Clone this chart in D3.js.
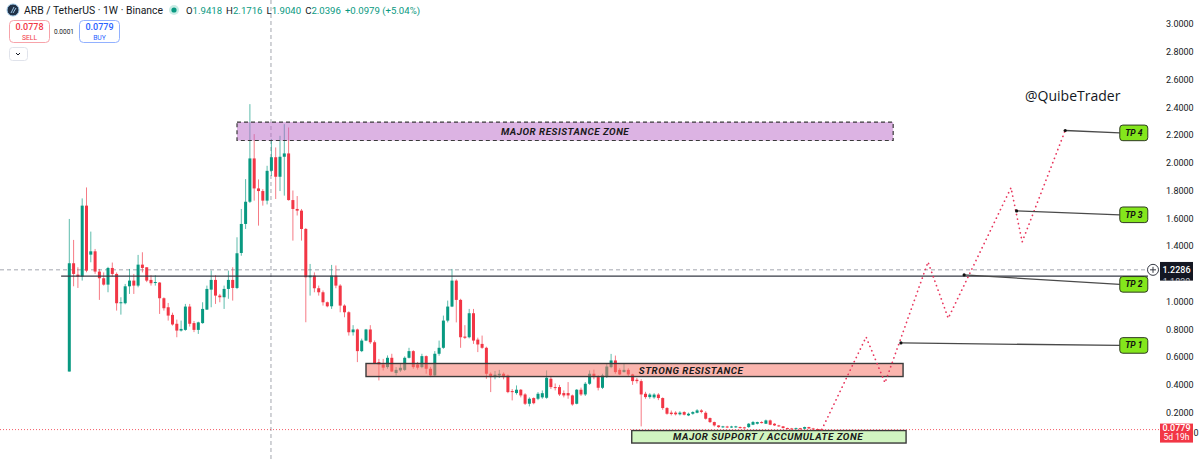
<!DOCTYPE html>
<html><head><meta charset="utf-8">
<script src="https://cdn.jsdelivr.net/npm/d3@7"></script>
<style>
html,body{margin:0;padding:0;background:#fff;}
svg{display:block;font-family:Roboto,"Noto Sans",sans-serif;}
</style></head>
<body>
<svg id="chart" width="1200" height="460"></svg>
<script>
// ---------- DATA ----------
const opens = [
0.496,1.276,1.194,1.180,1.691,1.338,1.362,1.216,1.168,1.122,
1.242,1.199,0.988,0.988,1.110,1.151,1.115,1.266,1.247,1.156,
1.137,1.137,1.024,0.959,0.904,0.840,0.791,0.796,0.964,0.845,
0.796,0.845,0.942,1.086,1.156,1.043,1.031,1.091,1.156,1.098,
1.350,1.559,1.719,2.031,1.815,1.796,1.727,1.9418,2.0396,1.899,
2.043,2.067,1.731,1.667,1.655,1.523,1.175,1.187,1.096,1.067,
0.995,0.966,1.187,1.115,0.971,0.923,0.779,0.799,0.643,0.719,
0.799,0.707,0.564,0.547,0.528,0.595,0.485,0.504,0.508,0.595,
0.643,0.547,0.528,0.607,0.516,0.468,0.624,0.667,0.863,0.964,
1.151,1.012,0.748,0.743,0.916,0.726,0.695,0.667,0.480,0.456,
0.468,0.480,0.468,0.355,0.341,0.365,0.331,0.264,0.305,0.300,
0.310,0.307,0.444,0.384,0.384,0.341,0.341,0.324,0.264,0.365,
0.331,0.408,0.480,0.456,0.379,0.461,0.528,0.576,0.508,0.492,
0.508,0.475,0.437,0.427,0.336,0.312,0.310,0.330,0.305,0.233,
0.200,0.200,0.188,0.204,0.180,0.192,0.199,0.216,0.199,0.161,
0.132,0.108,0.096,0.100,0.094,0.096,0.096,0.094,0.096,0.113,
0.120,0.132,0.120,0.144,0.120,0.108,0.101,0.089,0.086,0.082,
0.088,0.084,0.096,0.086,0.082,0.081];
const highs = [
1.595,1.444,1.247,1.743,1.822,1.504,1.379,1.235,1.210,1.250,
1.281,1.210,1.031,1.127,1.235,1.199,1.336,1.355,1.247,1.190,
1.190,1.140,1.030,0.990,0.920,0.870,0.863,0.983,0.983,0.860,
0.855,0.995,1.115,1.223,1.190,1.055,1.115,1.223,1.247,1.463,
1.667,1.882,2.422,2.206,1.880,1.810,1.978,2.1716,2.110,2.194,
2.278,2.254,1.800,1.760,1.667,1.530,1.271,1.210,1.115,1.080,
1.000,1.264,1.260,1.125,0.980,0.930,0.830,0.805,0.733,0.803,
0.830,0.720,0.587,0.587,0.612,0.624,0.528,0.552,0.605,0.667,
0.650,0.565,0.624,0.612,0.530,0.643,0.719,0.899,1.007,1.235,
1.160,1.020,0.830,0.947,0.947,0.740,0.755,0.675,0.490,0.500,
0.508,0.490,0.475,0.370,0.396,0.370,0.340,0.310,0.310,0.348,
0.360,0.504,0.460,0.410,0.400,0.360,0.420,0.330,0.370,0.380,
0.420,0.504,0.510,0.470,0.480,0.550,0.623,0.611,0.520,0.552,
0.520,0.480,0.450,0.440,0.350,0.340,0.340,0.340,0.310,0.240,
0.215,0.210,0.210,0.210,0.200,0.210,0.225,0.225,0.210,0.165,
0.135,0.110,0.105,0.105,0.105,0.105,0.100,0.098,0.125,0.140,
0.135,0.138,0.150,0.150,0.124,0.112,0.104,0.092,0.090,0.092,
0.090,0.099,0.098,0.090,0.086,0.084];
const lows = [
0.496,1.110,1.098,1.151,1.211,1.283,1.200,1.012,1.115,1.067,
1.180,0.935,0.906,0.980,1.055,1.055,1.103,1.210,1.140,1.115,
1.115,0.911,0.935,0.863,0.827,0.743,0.784,0.790,0.820,0.780,
0.767,0.840,0.940,0.959,0.983,0.995,0.947,1.020,1.007,1.090,
1.330,1.523,1.710,1.727,1.547,1.691,1.700,1.904,1.739,1.796,
1.763,1.727,1.439,1.620,1.439,0.851,1.043,1.067,1.043,0.971,
0.959,0.947,1.096,0.923,0.887,0.755,0.755,0.564,0.636,0.715,
0.695,0.550,0.432,0.504,0.516,0.492,0.468,0.492,0.500,0.590,
0.516,0.510,0.520,0.480,0.456,0.460,0.610,0.660,0.850,0.960,
0.850,0.667,0.730,0.735,0.695,0.636,0.660,0.444,0.348,0.440,
0.450,0.440,0.340,0.288,0.330,0.310,0.255,0.245,0.260,0.290,
0.300,0.300,0.370,0.360,0.320,0.310,0.300,0.250,0.260,0.320,
0.320,0.400,0.440,0.360,0.370,0.450,0.520,0.480,0.470,0.490,
0.460,0.400,0.410,0.101,0.300,0.300,0.300,0.290,0.220,0.185,
0.180,0.180,0.180,0.180,0.175,0.185,0.195,0.195,0.150,0.125,
0.100,0.090,0.090,0.088,0.090,0.090,0.085,0.085,0.090,0.110,
0.115,0.122,0.118,0.110,0.104,0.098,0.086,0.080,0.079,0.079,
0.078,0.080,0.083,0.078,0.075,0.074];
const closes = [
1.276,1.199,1.180,1.691,1.223,1.362,1.216,1.168,1.122,1.242,
1.199,0.988,0.995,1.110,1.151,1.115,1.266,1.242,1.151,1.132,
1.141,1.024,0.952,0.899,0.835,0.791,0.803,0.964,0.840,0.796,
0.850,0.947,1.091,1.156,1.043,1.031,1.091,1.156,1.098,1.348,
1.559,1.719,2.031,1.815,1.796,1.727,1.9417,2.0396,1.899,2.043,
2.067,1.731,1.667,1.655,1.523,1.175,1.187,1.096,1.067,0.995,
0.966,1.187,1.115,0.971,0.923,0.779,0.799,0.643,0.719,0.799,
0.707,0.556,0.547,0.524,0.595,0.496,0.508,0.523,0.595,0.643,
0.528,0.524,0.607,0.516,0.468,0.624,0.667,0.863,0.964,1.151,
1.012,0.743,0.739,0.916,0.719,0.691,0.667,0.480,0.456,0.473,
0.480,0.456,0.348,0.348,0.365,0.324,0.264,0.300,0.268,0.336,
0.340,0.451,0.384,0.379,0.331,0.324,0.324,0.259,0.365,0.331,
0.408,0.480,0.456,0.379,0.468,0.532,0.576,0.492,0.475,0.508,
0.475,0.427,0.427,0.331,0.312,0.330,0.330,0.305,0.233,0.192,
0.190,0.188,0.200,0.185,0.192,0.204,0.216,0.205,0.156,0.132,
0.108,0.096,0.101,0.094,0.100,0.101,0.089,0.089,0.120,0.132,
0.132,0.127,0.144,0.113,0.108,0.101,0.089,0.084,0.082,0.088,
0.081,0.096,0.086,0.081,0.078,0.0779];

const yTicks = [0.2,0.4,0.6,0.8,1.0,1.2,1.4,1.6,1.8,2.0,2.2,2.4,2.6,2.8,3.0];

// projected path (bar index, price)
const projIdx = [175, 185.3, 189.7, 199.7, 204.4, 219.0, 221.6, 231.6];
const projVal = [0.078, 0.745, 0.415, 1.285, 0.880, 1.820, 1.430, 2.232];

// targets
const tpNames = ["TP 1","TP 2","TP 3","TP 4"];
const tpIdx = [193.4, 208.1, 220.3, 231.6];
const tpVal = [0.702, 1.192, 1.653, 2.232];
const tpLabelVal = [0.684, 1.124, 1.625, 2.215];
const tpLabelIdx = 244.3;

// zones
const zoneNames = ["MAJOR RESISTANCE ZONE","STRONG RESISTANCE","MAJOR SUPPORT / ACCUMULATE ZONE"];
const zoneStart = [39.0, 69.0, 130.8];
const zoneEnd = [191.6, 193.9, 194.6];
const zoneTop = [2.293, 0.554, 0.071];
const zoneBottom = [2.160, 0.460, -0.019];
const zoneLabelIdx = [115.3, 144.6, 162.5];

const lastPrice = 0.0779;
const crossPrice = 1.2286;
const crossIdx = 46.9;
const levelPrice = 1.183;
const levelStartIdx = -1.9;

const symbolText = "ARB / TetherUS · 1W · Binance";
const ohlcKeys = ["O","H","L","C"];
const ohlcVals = ["1.9418","2.1716","1.9040","2.0396"];
const changeText = "+0.0979 (+5.04%)";

// ---------- CHART ----------
const svg = d3.select("#chart");
const W = 1200, H = 460, plotRight = 1150;
const x = d3.scaleLinear().domain([0, 175]).range([69.3, 821.8]);
const y = d3.scaleLinear().domain([0, 3]).range([440.4, 23.9]);
const UP = "#089981", DOWN = "#f23645";

const defs = svg.append("defs");
defs.append("clipPath").attr("id","plot").append("rect").attr("x",0).attr("y",0).attr("width",plotRight).attr("height",H);

const plot = svg.append("g").attr("clip-path","url(#plot)");

// crosshair
plot.append("line").attr("x1",x(crossIdx)).attr("x2",x(crossIdx)).attr("y1",0).attr("y2",H)
  .attr("stroke","#a3a6af").attr("stroke-width",1).attr("stroke-dasharray","4,3");
plot.append("line").attr("x1",0).attr("x2",plotRight).attr("y1",y(crossPrice)).attr("y2",y(crossPrice))
  .attr("stroke","#a3a6af").attr("stroke-width",1).attr("stroke-dasharray","4,3");

// last price dotted line
svg.append("line").attr("x1",0).attr("x2",1160).attr("y1",y(lastPrice)).attr("y2",y(lastPrice))
  .attr("stroke",DOWN).attr("stroke-width",1).attr("stroke-dasharray","1,2").attr("opacity",0.8);

// candles
const idx = d3.range(opens.length);
const cg = plot.append("g");
cg.selectAll("line.wick").data(idx).join("line").attr("class","wick")
  .attr("x1",i=>x(i)).attr("x2",i=>x(i))
  .attr("y1",i=>y(highs[i])).attr("y2",i=>y(lows[i]))
  .attr("stroke",i=>closes[i]>=opens[i]?UP:DOWN).attr("stroke-width",1).attr("opacity",0.65);
cg.selectAll("rect.body").data(idx).join("rect").attr("class","body")
  .attr("x",i=>x(i)-1.5).attr("width",3)
  .attr("y",i=>y(Math.max(opens[i],closes[i])))
  .attr("height",i=>Math.max(1,Math.abs(y(opens[i])-y(closes[i]))))
  .attr("fill",i=>closes[i]>=opens[i]?UP:DOWN);

// horizontal level line
plot.append("line").attr("x1",x(levelStartIdx)).attr("x2",1148).attr("y1",y(levelPrice)).attr("y2",y(levelPrice))
  .attr("stroke","#363a45").attr("stroke-width",1.2);

// zones
const zoneFill = ["rgba(186,104,200,0.5)","rgba(245,120,108,0.55)","rgba(140,230,100,0.4)"];
const zoneDash = ["4,3",null,null];
const zg = plot.append("g");
zoneNames.forEach((n,k)=>{
  const x0=x(zoneStart[k]), x1=x(zoneEnd[k]), y0=y(zoneTop[k]), y1=y(zoneBottom[k]);
  zg.append("rect").attr("x",x0).attr("y",y0).attr("width",x1-x0).attr("height",y1-y0)
    .attr("fill",zoneFill[k]).attr("stroke","#3a3a3a").attr("stroke-width",k===0?1.2:1.4)
    .attr("stroke-dasharray",zoneDash[k]);
  zg.append("text").attr("x",x(zoneLabelIdx[k])).attr("y",(y0+y1)/2).attr("dy","0.36em")
    .attr("text-anchor","middle").attr("font-size",9.8).attr("font-weight",700)
    .attr("font-style","italic").attr("letter-spacing",0.5).attr("fill","#1a1a1a").text(n);
});

// projection path
const line = d3.line().x(d=>x(d[0])).y(d=>y(d[1]));
plot.append("path").datum(projIdx.map((v,i)=>[v,projVal[i]])).attr("d",line)
  .attr("fill","none").attr("stroke","#e8365d").attr("stroke-width",1.7)
  .attr("stroke-linecap","round").attr("stroke-dasharray","0.1,4.6");

// TP connectors and labels
const tg = svg.append("g");
tpNames.forEach((n,k)=>{
  const px=x(tpIdx[k]), py=y(tpVal[k]), lx=x(tpLabelIdx), ly=y(tpLabelVal[k]);
  tg.append("line").attr("x1",px).attr("y1",py).attr("x2",lx).attr("y2",ly)
    .attr("stroke","#4a4a4a").attr("stroke-width",1.3);
  tg.append("circle").attr("cx",px).attr("cy",py).attr("r",1.6).attr("fill","#111");
  tg.append("rect").attr("x",lx).attr("y",ly-7.8).attr("width",28).attr("height",15.6).attr("rx",3)
    .attr("fill","#84e61c").attr("stroke","#2f3a22").attr("stroke-width",1);
  tg.append("text").attr("x",lx+14).attr("y",ly).attr("dy","0.36em").attr("text-anchor","middle")
    .attr("font-size",8.5).attr("font-weight",700).attr("font-style","italic").attr("fill","#111").text(n);
});

// author
svg.append("text").attr("x",1025).attr("y",100.5).attr("font-size",14).attr("font-weight",500)
  .attr("font-family","'Open Sans',Roboto,sans-serif").attr("fill","#131722").text("@QuibeTrader");

// price axis (labels hidden behind the crosshair price tag are not drawn)
const cy0 = y(crossPrice);
const shownTicks = yTicks.filter(t => Math.abs(y(t) - cy0) > 11);
const axis = d3.axisRight(y).tickValues(shownTicks).tickSize(0).tickPadding(0).tickFormat(d3.format(".4f"));
const ag = svg.append("g").attr("transform","translate(1166,0)").call(axis);
ag.select(".domain").remove();
ag.attr("font-family","Roboto,sans-serif").attr("font-size",9);
ag.selectAll("text").attr("fill","#131722");

// crosshair price label
svg.append("circle").attr("cx",1153).attr("cy",cy0).attr("r",5.5).attr("fill","#fff").attr("stroke","#363a45").attr("stroke-width",1);
svg.append("path").attr("d",`M1150,${cy0}h6M1153,${cy0-3}v6`).attr("stroke","#363a45").attr("stroke-width",1);
defs.append("clipPath").attr("id","clab").append("rect").attr("x",1160).attr("y",cy0-8).attr("width",33).attr("height",19);
const cl = svg.append("g").attr("clip-path","url(#clab)");
cl.append("rect").attr("x",1160).attr("y",cy0-8).attr("width",33).attr("height",19).attr("fill","#131722");
cl.append("text").attr("x",1176.5).attr("y",cy0+3.2).attr("text-anchor","middle")
  .attr("font-size",9).attr("font-weight",500).attr("fill","#fff").text(d3.format(".4f")(crossPrice));
cl.append("text").attr("x",1176.5).attr("y",cy0+15.5).attr("text-anchor","middle")
  .attr("font-size",9).attr("fill","#d1d4dc").text(d3.format(".4f")(levelPrice));

// last price label
const ly0 = y(lastPrice);
svg.append("rect").attr("x",1160).attr("y",ly0-6).attr("width",33).attr("height",19).attr("fill",DOWN);
svg.append("text").attr("x",1176.5).attr("y",ly0+1.5).attr("text-anchor","middle").attr("font-size",9)
  .attr("font-weight",500).attr("fill","#fff").text(d3.format(".4f")(lastPrice));
svg.append("text").attr("x",1176.5).attr("y",ly0+10.5).attr("text-anchor","middle").attr("font-size",8.5)
  .attr("fill","#fff").text("5d 19h");
svg.append("text").attr("x",1193.5).attr("y",ly0+6).attr("font-size",9).attr("fill","#131722").text("0");

// header
const hd = svg.append("g");
hd.append("circle").attr("cx",13).attr("cy",10).attr("r",6).attr("fill","#213147").attr("stroke","#9cc6e6").attr("stroke-width",1);
hd.append("path").attr("d","M11,13 L14,7 M13,13 L16,8").attr("stroke","#9cc6e6").attr("stroke-width",1);
hd.append("text").attr("x",24).attr("y",14).attr("font-size",10.4).attr("fill","#131722").text(symbolText);
hd.append("circle").attr("cx",174).attr("cy",10).attr("r",5).attr("fill","#c9ece5");
hd.append("circle").attr("cx",174).attr("cy",10).attr("r",2.6).attr("fill",UP);
const ot = hd.append("text").attr("x",186).attr("y",14).attr("font-size",9.6);
ohlcKeys.forEach((k,i)=>{
  ot.append("tspan").attr("fill","#131722").attr("dx",i?4:0).text(k);
  ot.append("tspan").attr("fill",UP).text(ohlcVals[i]);
});
ot.append("tspan").attr("fill",UP).attr("dx",4).text(changeText);

// sell / buy
const sb = [{x:9,c:DOWN,b:"#f7a3aa",v:"0.0778",t:"SELL"},{x:79,c:"#2962ff",b:"#92b1ff",v:"0.0779",t:"BUY"}];
sb.forEach(s=>{
  hd.append("rect").attr("x",s.x+0.5).attr("y",20.5).attr("width",40).attr("height",22).attr("rx",4)
    .attr("fill","#fff").attr("stroke",s.b).attr("stroke-width",1);
  hd.append("text").attr("x",s.x+20.5).attr("y",30).attr("text-anchor","middle").attr("font-size",9)
    .attr("font-weight",500).attr("fill",s.c).text(s.v);
  hd.append("text").attr("x",s.x+20.5).attr("y",39.5).attr("text-anchor","middle").attr("font-size",6.8)
    .attr("fill",s.c).text(s.t);
});
hd.append("text").attr("x",64).attr("y",34).attr("text-anchor","middle").attr("font-size",6.5).attr("fill","#131722").text("0.0001");
hd.append("rect").attr("x",9.5).attr("y",47.5).attr("width",18).attr("height",13).attr("rx",3)
  .attr("fill","#fff").attr("stroke","#e0e3eb");
hd.append("path").attr("d","M16,53 l2,2 l2,-2").attr("fill","none").attr("stroke","#131722").attr("stroke-width",1);
</script>
</body></html>
